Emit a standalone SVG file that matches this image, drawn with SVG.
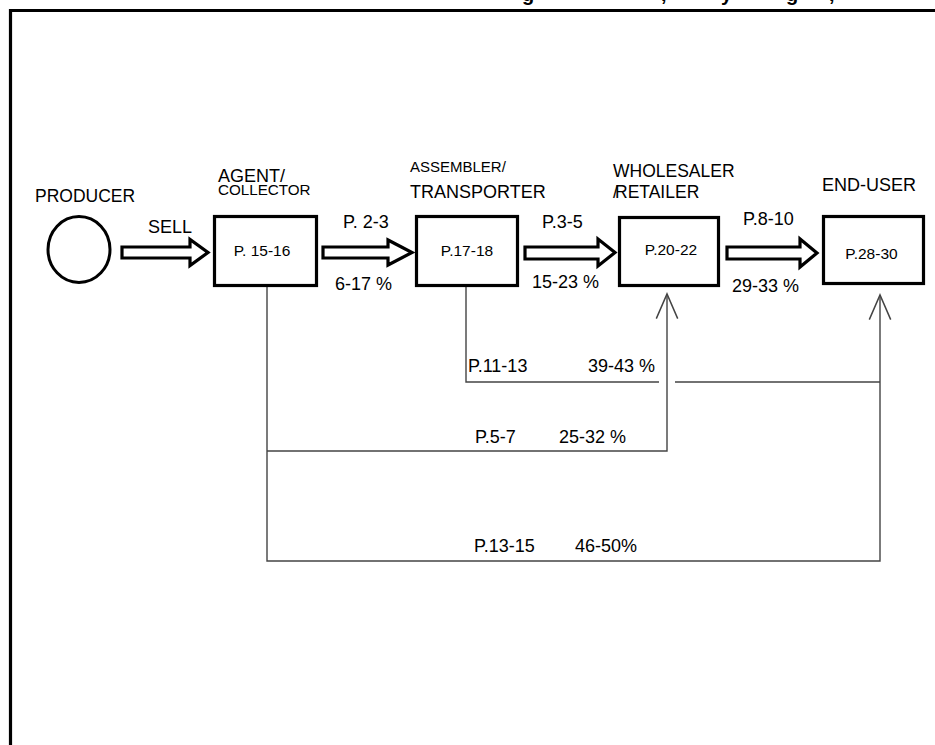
<svg xmlns="http://www.w3.org/2000/svg" width="935" height="745" viewBox="0 0 935 745">
<defs>
<style>
text{font-family:"Liberation Sans",Arial,sans-serif;fill:#000}
.lbl{font-size:17.5px}
.arr{font-size:18px}
.in{font-size:15.5px;text-anchor:middle}
.box{fill:#fff;stroke:#000;stroke-width:3.2}
.blk{fill:#fff;stroke:#000;stroke-width:3.2;stroke-linejoin:miter}
.con{fill:none;stroke:#444;stroke-width:1.4}
</style>
<marker id="open" markerUnits="userSpaceOnUse" markerWidth="30" markerHeight="30" viewBox="-26 -12 28 24" refX="0" refY="0" orient="auto">
<path d="M-23,-10 L0,0 L-23,10" fill="none" stroke="#444" stroke-width="1.4"/>
</marker>
</defs>
<rect width="935" height="745" fill="#fff"/>
<g id="frame">
<path d="M10.5,760 V10.5 H950" fill="none" stroke="#000" stroke-width="3.2"/>
<text font-size="20" font-weight="bold" y="0.5"><tspan x="522">g</tspan><tspan x="661">,</tspan><tspan x="721">y</tspan><tspan x="786">g</tspan><tspan x="829">,</tspan></text>
</g>
<g id="connectors">
<path class="con" d="M267,287 V561 H880 V295" marker-end="url(#open)"/>
<path class="con" d="M267,451 H667 V294" marker-end="url(#open)"/>
<path class="con" d="M466,287 V382 H659 M675,382 H880"/>
<path class="blk" d="M122,247 H190 V239.5 L208,252.5 L190,265.5 V258 H122 Z"/>
<path class="blk" d="M323,247 H388 V240 L412,252.5 L388,265 V258 H323 Z"/>
<path class="blk" d="M525,247 H598 V239 L615,252.5 L598,266 V259 H525 Z"/>
<path class="blk" d="M727,247 H800 V239 L817,253 L800,267 V259 H727 Z"/>
<text class="arr" x="148" y="233" font-size="16">SELL</text>
<text class="arr" x="343" y="228">P. 2-3</text>
<text class="arr" x="335" y="290">6-17 %</text>
<text class="arr" x="542" y="228">P.3-5</text>
<text class="arr" x="532" y="288">15-23 %</text>
<text class="arr" x="743" y="225">P.8-10</text>
<text class="arr" x="732" y="292">29-33 %</text>
<text class="arr" x="468" y="372">P.11-13</text>
<text class="arr" x="588" y="372">39-43 %</text>
<text class="arr" x="475" y="443">P.5-7</text>
<text class="arr" x="559" y="443">25-32 %</text>
<text class="arr" x="474" y="552">P.13-15</text>
<text class="arr" x="575" y="552">46-50%</text>
</g>
<g id="producer">
<ellipse cx="79" cy="249.5" rx="31" ry="33" fill="#fff" stroke="#000" stroke-width="3"/>
<text class="lbl" x="35" y="202">PRODUCER</text>
</g>
<g id="agent">
<rect class="box" x="214.5" y="216.5" width="102" height="69"/>
<text x="218" y="182" font-size="18">AGENT/</text>
<text x="218" y="195" font-size="15.2">COLLECTOR</text>
<text class="in" x="262" y="256">P. 15-16</text>
</g>
<g id="assembler">
<rect class="box" x="416.5" y="216.5" width="101" height="69"/>
<text x="410" y="172" font-size="15">ASSEMBLER/</text>
<text x="410" y="198" font-size="18">TRANSPORTER</text>
<text class="in" x="467" y="256">P.17-18</text>
</g>
<g id="wholesaler">
<rect class="box" x="619.5" y="217.5" width="99" height="68"/>
<text class="lbl" x="613" y="177">WHOLESALER</text>
<text class="lbl" y="198"><tspan x="613">/</tspan><tspan x="615">RETAILER</tspan></text>
<text class="in" x="671" y="255">P.20-22</text>
</g>
<g id="enduser">
<rect class="box" x="823.5" y="216.5" width="100" height="67"/>
<text x="822" y="191" font-size="18">END-USER</text>
<text class="in" x="871.5" y="259">P.28-30</text>
</g>
</svg>
